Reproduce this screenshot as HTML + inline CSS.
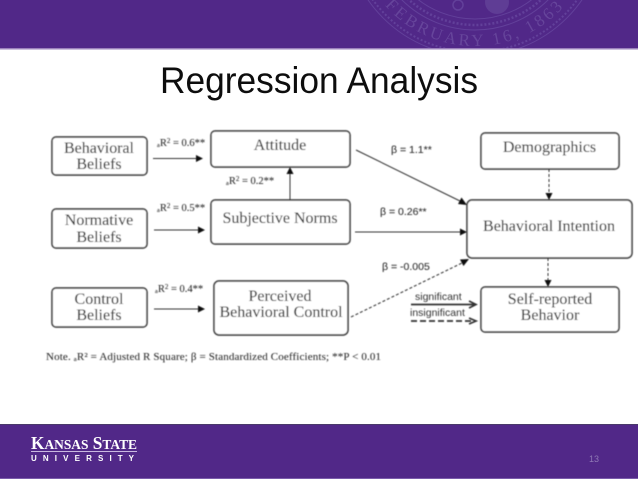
<!DOCTYPE html>
<html><head><meta charset="utf-8"><style>
html,body{margin:0;padding:0;background:#fff}
svg{display:block}
.d{font-family:"Liberation Serif",serif;fill:#333;stroke:#333;stroke-width:.1}
.b{fill:#fff;stroke:#4a4a4a;stroke-width:1.7}
.l{stroke:#333;stroke-width:1;fill:none}
.a{fill:#111}
</style></head><body>
<svg width="638" height="479" viewBox="0 0 638 479" xmlns="http://www.w3.org/2000/svg">
<defs>
<filter id="s" x="-5%" y="-5%" width="110%" height="110%"><feGaussianBlur stdDeviation="0.5"/></filter>
<filter id="t" x="-5%" y="-5%" width="110%" height="110%"><feGaussianBlur stdDeviation="0.3"/></filter>
<clipPath id="h"><rect x="0" y="0" width="638" height="48"/></clipPath>
<path id="arc" d="M355 -74 A120 120 0 0 0 595 -74"/>
</defs>
<rect width="638" height="479" fill="#fff"/>
<rect width="638" height="48" fill="#512888"/>
<rect y="48" width="638" height="1.5" fill="#9a80bb"/>
<g clip-path="url(#h)" fill="none" stroke="#62409a" filter="url(#t)">
<circle cx="475" cy="-74" r="130" stroke-width="1"/>
<circle cx="475" cy="-74" r="126" stroke-width="2" stroke-dasharray="2 2"/>
<circle cx="475" cy="-74" r="104" stroke-width="1"/>
<circle cx="475" cy="-74" r="99" stroke-width="2.5" stroke-dasharray="2 2"/>
<circle cx="475" cy="-74" r="93" stroke-width="1"/>
<circle cx="497" cy="2" r="12" fill="#5f3c95" stroke="none"/>
<circle cx="458" cy="5" r="5" stroke-width="1.5"/>
<text font-family="Liberation Serif,serif" font-size="17" letter-spacing="3" fill="#66449b" stroke="none"><textPath href="#arc" startOffset="50%" text-anchor="middle">FEBRUARY 16, 1863</textPath></text>
</g>
<text x="160" y="93" font-family="Liberation Sans,sans-serif" font-size="37" fill="#111" textLength="318" lengthAdjust="spacingAndGlyphs" filter="url(#t)">Regression Analysis</text>

<g filter="url(#s)">
<rect class="b" x="52" y="137" width="95" height="38" rx="4"/>
<rect class="b" x="52" y="209" width="95" height="39" rx="4"/>
<rect class="b" x="52" y="288" width="95" height="39" rx="4"/>
<rect class="b" x="211" y="131" width="139" height="36" rx="4"/>
<rect class="b" x="211" y="200" width="139" height="44" rx="4"/>
<rect class="b" x="214" y="281" width="134" height="54" rx="5"/>
<rect class="b" x="481" y="133" width="138" height="36" rx="4"/>
<rect class="b" x="467" y="200" width="165" height="58" rx="5"/>
<rect class="b" x="481" y="287" width="138" height="45" rx="4"/>

<g class="d" font-size="16" text-anchor="middle">
<text x="99" y="153" textLength="70">Behavioral</text>
<text x="99" y="169">Beliefs</text>
<text x="99" y="225">Normative</text>
<text x="99" y="242">Beliefs</text>
<text x="99" y="304">Control</text>
<text x="99" y="320">Beliefs</text>
<text x="280" y="150">Attitude</text>
<text x="280" y="223">Subjective Norms</text>
<text x="280" y="301">Perceived</text>
<text x="281" y="317">Behavioral Control</text>
<text x="549.500" y="152">Demographics</text>
<text x="549" y="231">Behavioral Intention</text>
<text x="550" y="304">Self-reported</text>
<text x="550" y="320">Behavior</text>
</g>

<g class="d" font-size="10.500">
<text x="157" y="146">ₐR<tspan font-size="7" dy="-3">2</tspan><tspan dy="3"> = 0.6**</tspan></text>
<text x="226" y="184">ₐR<tspan font-size="7" dy="-3">2</tspan><tspan dy="3"> = 0.2**</tspan></text>
<text x="157" y="211">ₐR<tspan font-size="7" dy="-3">2</tspan><tspan dy="3"> = 0.5**</tspan></text>
<text x="155" y="292">ₐR<tspan font-size="7" dy="-3">2</tspan><tspan dy="3"> = 0.4**</tspan></text>
<text x="391" y="153" font-family="Liberation Sans,sans-serif">β = 1.1**</text>
<text x="380" y="215" font-family="Liberation Sans,sans-serif">β = 0.26**</text>
<text x="382" y="270" font-family="Liberation Sans,sans-serif">β = -0.005</text>
</g>

<path class="l" d="M153 158.500H197"/>
<path class="a" d="M203 158.500L196 155V162Z"/>
<path class="l" d="M154 230H199"/>
<path class="a" d="M205 230L198 226.500V233.500Z"/>
<path class="l" d="M154 309H199"/>
<path class="a" d="M205 309L198 305.500V312.500Z"/>
<path class="l" d="M290 200V174"/>
<path class="a" d="M290 167L286.500 174H293.500Z"/>
<path class="l" d="M356 150L462 202"/>
<path class="a" d="M467 205L458 204L461.500 197.500Z"/>
<path class="l" d="M355 232H460"/>
<path class="a" d="M467 232L460 228.500V235.500Z"/>
<path class="l" d="M351 317L462 263" stroke-dasharray="3 2"/>
<path class="a" d="M469 259L460 259.500L463.500 266Z"/>
<path class="l" d="M549 169V194" stroke-dasharray="3 2"/>
<path class="a" d="M549 200L545.500 193H552.500Z"/>
<path class="l" d="M548 258V281" stroke-dasharray="3 2"/>
<path class="a" d="M548 287L544.500 280H551.500Z"/>

<g font-family="Liberation Sans,sans-serif" font-size="10.500" fill="#333">
<text x="415" y="300">significant</text>
<text x="410" y="316">insignificant</text>
</g>
<path d="M411 304.500H475M469 301L476 304.500L469 308" fill="none" stroke="#333" stroke-width="1.700"/>
<path d="M411 321H475" fill="none" stroke="#333" stroke-width="1.700" stroke-dasharray="6 3"/>
<path d="M469 318L476 321L469 324" fill="none" stroke="#333" stroke-width="1.700"/>

<text x="46" y="360" class="d" font-size="11" textLength="335">Note. ₐR² = Adjusted R Square; β = Standardized Coefficients; **P &lt; 0.01</text>
</g>

<rect y="424" width="638" height="55" fill="#512888"/>
<rect y="424" width="638" height="1" fill="#4a3a6a"/>
<rect y="478" width="638" height="1" fill="#7a5caa"/>
<g fill="#fff" filter="url(#t)">
<text x="31" y="449" font-family="Liberation Serif,serif" font-size="18" font-weight="bold" textLength="106" lengthAdjust="spacingAndGlyphs">K<tspan font-size="14">ANSAS</tspan> S<tspan font-size="14">TATE</tspan></text>
<rect x="31" y="451" width="106" height="1" fill="#c9b8e0"/>
<text x="31" y="461" font-family="Liberation Sans,sans-serif" font-size="8" font-weight="bold" textLength="103">U N I V E R S I T Y</text>
</g>
<text x="589" y="462" font-family="Liberation Sans,sans-serif" font-size="9" fill="#8f78b5">13</text>
</svg>
</body></html>
